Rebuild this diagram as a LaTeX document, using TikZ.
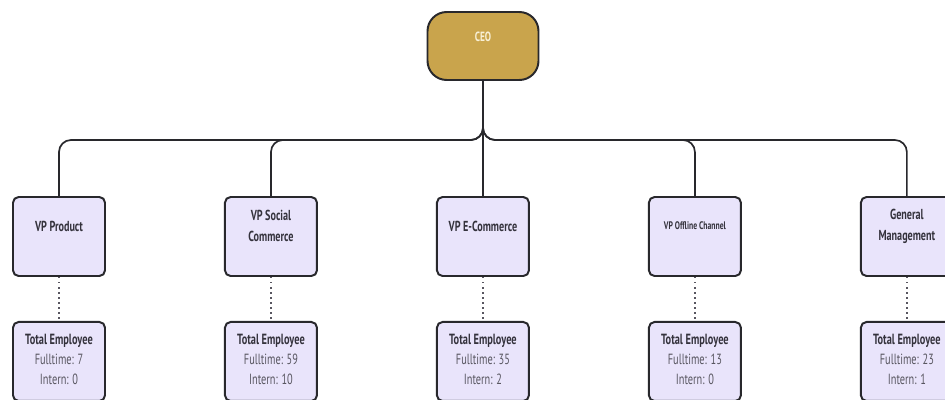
\documentclass[tikz,border=0pt]{standalone}
\usepackage{fontspec}
\newfontfamily\orgfont[FakeStretch=0.7]{PT Sans}
\usepackage{tikz}
\usetikzlibrary{positioning,calc}
\definecolor{ceogold}{RGB}{201,164,76}
\definecolor{ceotxt}{RGB}{248,240,214}
\definecolor{vpfill}{RGB}{233,228,251}
\definecolor{boxline}{RGB}{40,40,44}
\definecolor{textdark}{RGB}{52,50,60}
\definecolor{textgrey}{RGB}{88,86,96}

\begin{document}
\begin{tikzpicture}[node distance=2.95cm,
    ceobox/.style={draw=boxline, line width=1.4pt, rectangle, rounded corners=0.48cm, fill=ceogold, minimum width=2.775cm, minimum height=1.7cm},
    ceotext/.style={font=\orgfont\bfseries\fontsize{9.5}{11}\selectfont, text=ceotxt},
    vpbox/.style={draw=boxline, line width=1.4pt, rectangle, rounded corners=4pt, fill=vpfill, minimum width=2.3cm, minimum height=1.975cm},
    title/.style={font=\orgfont\bfseries\fontsize{10.3}{15}\selectfont, text=textdark, align=center},
    count/.style={font=\orgfont\fontsize{10.5}{14.2}\selectfont, text=textgrey, align=center},
    conn/.style={line width=1.2pt, draw=boxline, rounded corners=0.3cm},
    dots/.style={line width=1pt, draw=textgrey, dash pattern=on 1pt off 2.6pt}]
    \clip (0,0) rectangle (23.625,-9.975);

    % CEO
    \node [ceobox] (ceo) at (12.075,-1.15) {};
    \node [ceotext] (ceolbl) at ([yshift=0.22cm]ceo.center) {CEO};

    % VP row
    \node [vpbox] (vpprod) at (1.475,-5.9125) {};
    \node [vpbox, right=of vpprod] (vpsoc) {};
    \node [vpbox, right=of vpsoc] (vpecom) {};
    \node [vpbox, right=of vpecom] (vpoff) {};
    \node [vpbox, right=of vpoff] (genmgmt) {};
    \node [title] (vpprodlbl) at ([yshift=-0.75cm]vpprod.north) {VP Product};
    \node [title] (vpsoclbl) at ([yshift=-0.75cm]vpsoc.north) {VP Social\\Commerce};
    \node [title] (vpecomlbl) at ([yshift=-0.75cm]vpecom.north) {VP E-Commerce};
    \node [title, font=\orgfont\bfseries\fontsize{7.8}{9}\selectfont] (vpofflbl) at ([yshift=-0.75cm]vpoff.north) {VP Offline Channel};
    \node [title] (genmgmtlbl) at ([yshift=-0.75cm]genmgmt.north) {General\\Management};

    % Employee counts
    \node [vpbox, below=1.1cm of vpprod] (totprod) {};
    \node [vpbox, below=1.1cm of vpsoc] (totsoc) {};
    \node [vpbox, below=1.1cm of vpecom] (totecom) {};
    \node [vpbox, below=1.1cm of vpoff] (totoff) {};
    \node [vpbox, below=1.1cm of genmgmt] (totgen) {};
    \node [count] (totprodlbl) at ([yshift=-0.95cm]totprod.north) {\textcolor{textdark}{\bfseries Total Employee}\\Fulltime: 7\\Intern: 0};
    \node [count] (totsoclbl) at ([yshift=-0.95cm]totsoc.north) {\textcolor{textdark}{\bfseries Total Employee}\\Fulltime: 59\\Intern: 10};
    \node [count] (totecomlbl) at ([yshift=-0.95cm]totecom.north) {\textcolor{textdark}{\bfseries Total Employee}\\Fulltime: 35\\Intern: 2};
    \node [count] (totofflbl) at ([yshift=-0.95cm]totoff.north) {\textcolor{textdark}{\bfseries Total Employee}\\Fulltime: 13\\Intern: 0};
    \node [count] (totgenlbl) at ([yshift=-0.95cm]totgen.north) {\textcolor{textdark}{\bfseries Total Employee}\\Fulltime: 23\\Intern: 1};

    % Reporting lines
    \coordinate (bus) at ([yshift=-1.475cm]ceo.south);
    \draw [conn] (ceo.south) -- (bus) -| (vpprod.north);
    \draw [conn] (ceo.south) -- (bus) -| (vpsoc.north);
    \draw [conn] (ceo.south) -- (vpecom.north);
    \draw [conn] (ceo.south) -- (bus) -| (vpoff.north);
    \draw [conn] (ceo.south) -- (bus) -| (genmgmt.north);

    \draw [dots] (vpprod.south) -- (totprod.north);
    \draw [dots] (vpsoc.south) -- (totsoc.north);
    \draw [dots] (vpecom.south) -- (totecom.north);
    \draw [dots] (vpoff.south) -- (totoff.north);
    \draw [dots] (genmgmt.south) -- (totgen.north);
\end{tikzpicture}
\end{document}
